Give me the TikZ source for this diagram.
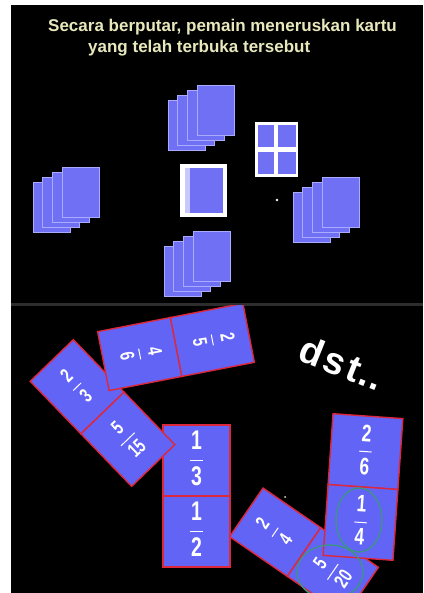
\documentclass[tikz,border=0pt]{standalone}
\usepackage{fontspec}
\setmainfont{Liberation Sans}
\usepackage{graphicx}
\definecolor{cardblue}{RGB}{112,112,244}
\definecolor{cardline}{RGB}{170,170,255}
\definecolor{domblue}{RGB}{98,100,246}
\definecolor{domred}{RGB}{220,40,60}
\definecolor{ringteal}{RGB}{60,150,130}
\definecolor{textyellow}{RGB}{232,232,188}
\definecolor{sepgray}{RGB}{45,45,45}
\definecolor{lav}{RGB}{200,200,255}
\setlength\arrayrulewidth{1pt}
\newcommand\fr[2]{\scalebox{0.72}[1]{\begin{tabular}{@{\hspace{2pt}}c@{\hspace{2pt}}}#1\\\hline #2\end{tabular}}}
\newcommand\cardstack[2]{%
  \foreach \i in {0,...,3} {\draw[cardback] ({#1+9.7*\i},{#2+5*\i}) rectangle ++(37,50);}}
\newcommand\domino[9]{%
  \begin{scope}[shift={(#2,#3)},rotate=#4,transform shape]
    \node[dhalf,minimum width=#5pt,minimum height=#6pt,font=#9] (#1t) at (0,#6/2) {#7};
    \node[dhalf,minimum width=#5pt,minimum height=#6pt,font=#9] (#1b) at (0,-#6/2) {#8};
  \end{scope}}
\tikzset{
  cardback/.style={fill=cardblue,draw=cardline,line width=0.6pt},
  dhalf/.style={rectangle,fill=domblue,draw=domred,line width=1.4pt,text=white,inner sep=0pt},
  ring/.style={draw=ringteal,line width=1.3pt},
}
\begin{document}
\begin{tikzpicture}[x=1pt,y=1pt]
\useasboundingbox (0,0) rectangle (423,593);
\fill[white] (0,0) rectangle (423,593);
\fill[black] (11,0) rectangle (423,588);
\fill[sepgray] (11,287) rectangle (423,289.5);
% top panel text
\node[anchor=base west,text=textyellow,font=\fontsize{17}{20}\selectfont\bfseries,inner sep=0pt] (l1) at (48,561) {Secara berputar, pemain meneruskan kartu};
\node[anchor=base west,text=textyellow,font=\fontsize{17}{20}\selectfont\bfseries,inner sep=0pt] (l2) at (88,540) {yang telah terbuka tersebut};
% card stacks
\cardstack{168}{443}
\cardstack{33}{361}
\cardstack{293}{351}
\cardstack{164}{297}
% discarded card
\fill[white] (180,376) rectangle (227,429);
\fill[lav] (185,380) rectangle (190,425);
\fill[cardblue] (190,380) rectangle (223,425);
% face-up card
\fill[white] (255,416) rectangle (298,471);
\fill[cardblue] (258,446) rectangle (274,468);
\fill[cardblue] (278,446) rectangle (296,468);
\fill[cardblue] (258,419) rectangle (274,441);
\fill[cardblue] (278,419) rectangle (296,441);
\fill[white] (277,393) circle (1.3);
% bottom panel
\begin{scope}
\clip (11,0) rectangle (423,287);
\domino{E}{196.5}{97}{0}{67}{71}{\fr{1}{3}}{\fr{1}{2}}{\fontsize{27}{35}\selectfont\bfseries}
\domino{B}{102.5}{180}{44}{60}{73}{\fr{2}{3}}{\fr{5}{15}}{\fontsize{20}{27}\selectfont\bfseries}
\domino{A}{176}{246}{-79}{60}{74}{\fr{2}{5}}{\fr{4}{6}}{\fontsize{20}{27}\selectfont\bfseries}
\domino{C}{304}{41}{55.5}{59}{70}{\fr{2}{4}}{\fr{5}{20}}{\fontsize{20}{27}\selectfont\bfseries}
\domino{D}{363}{106}{-4}{70}{71}{\fr{2}{6}}{\fr{1}{4}}{\fontsize{24}{32}\selectfont\bfseries}
\draw[ring] (359,73) ellipse [x radius=23,y radius=32];
\draw[ring] (330,21) ellipse [x radius=33,y radius=27];
\node[text=white,font=\fontsize{38}{40}\selectfont\bfseries,rotate=-22,inner sep=0pt] (dst) at (342,230) {d\kern3pt s\kern3pt t\kern2pt.\kern1pt.};
\fill[textyellow] (285,96) circle (1);
\end{scope}
\end{tikzpicture}
\end{document}
